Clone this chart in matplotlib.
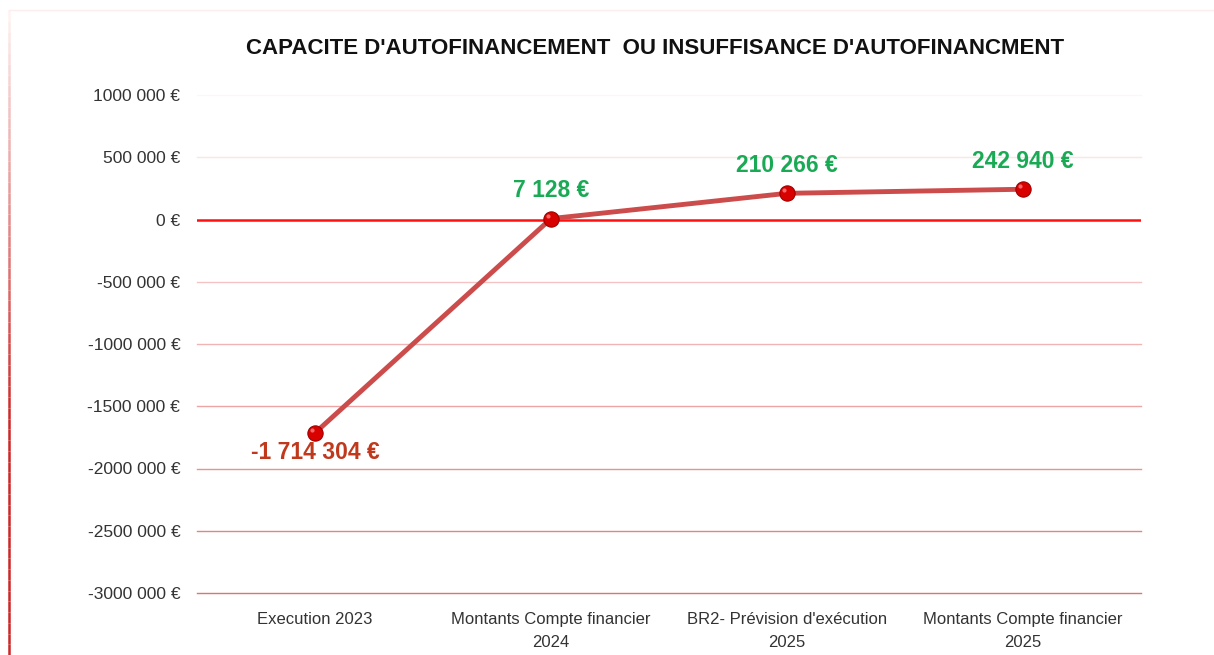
import numpy as np
import matplotlib.pyplot as plt
from matplotlib.collections import LineCollection
from matplotlib.ticker import FuncFormatter

# Data
categories = ["Execution 2023", "Montants Compte financier\n2024",
              "BR2- Prévision d'exécution\n2025", "Montants Compte financier\n2025"]
values = [-1714304, 7128, 210266, 242940]
value_labels = ["-1 714 304 €", "7 128 €", "210 266 €", "242 940 €"]
yticks = [1000000, 500000, 0, -500000, -1000000, -1500000, -2000000, -2500000, -3000000]

plt.rcParams['font.family'] = ['Liberation Sans', 'DejaVu Sans']


def fmt_tick(v, pos):
    v = int(round(v))
    if v == 0:
        return "0 €"
    sign = "-" if v < 0 else ""
    a = abs(v)
    return f"{sign}{a // 1000} {a % 1000:03d} €"


fig = plt.figure(figsize=(12.14, 6.55), dpi=100)
ax = fig.add_axes([197 / 1214, 1 - 593 / 655, 944 / 1214, 498 / 655])

x = np.arange(len(categories))
ax.set_xlim(-0.5, len(categories) - 0.5)
ax.set_ylim(-3000000, 1000000)

# gradient gridlines (faint at top, stronger at bottom)
top_c = np.array([1.0, 0.96, 0.96])
bot_c = np.array([0.88, 0.45, 0.45])
for t in yticks:
    if t == 0:
        continue
    f = (1000000 - t) / 4000000
    c = top_c * (1 - f) + bot_c * f
    ax.axhline(t, color=c, lw=1.0, zorder=1, clip_on=False)
ax.axhline(0, color="#ff1010", lw=1.8, zorder=2)

# series
ax.plot(x, values, color="#cc4b4b", lw=3.5, solid_capstyle="round", zorder=3)
ax.plot(x, values, "o", ms=11, color="#d90000", mec="#a00000", mew=0.8, zorder=4)
ax.plot(x - 0.012, np.array(values) + 25000, "o", ms=3, color="#ff8080", mew=0, alpha=0.8, zorder=5)

for xi, v, lab in zip(x, values, value_labels):
    if v < 0:
        ax.annotate(lab, (xi, v), xytext=(0, -14), textcoords="offset points",
                    ha="center", va="center", fontsize=16.5, fontweight="bold",
                    color="#c0391c", zorder=6)
    else:
        ax.annotate(lab, (xi, v), xytext=(0, 20), textcoords="offset points",
                    ha="center", va="center", fontsize=16.5, fontweight="bold",
                    color="#1aaa55", zorder=6)

ax.set_yticks(yticks)
ax.yaxis.set_major_formatter(FuncFormatter(fmt_tick))
ax.set_xticks(x)
ax.set_xticklabels(categories, linespacing=1.6)
ax.tick_params(axis="y", length=0, pad=12, labelsize=12.5, labelcolor="#333333")
ax.tick_params(axis="x", length=0, pad=14, labelsize=12, labelcolor="#333333")
for s in ax.spines.values():
    s.set_visible(False)

fig.text(655 / 1214, 1 - 48 / 655, "CAPACITE D'AUTOFINANCEMENT  OU INSUFFISANCE D'AUTOFINANCMENT",
         ha="center", va="center", fontsize=16, fontweight="bold", color="#111111")

# chart border: faint top, gradient red left edge
n = 60
ys = np.linspace(1 - 10 / 655, 0, n + 1)
segs = [[(9 / 1214, ys[i]), (9 / 1214, ys[i + 1])] for i in range(n)]
cols = []
for i in range(n):
    f = min(1.0, 1.6 * i / n)
    cols.append((1.0 - 0.2 * f, 0.95 - 0.8 * f, 0.95 - 0.8 * f))
fig.add_artist(LineCollection(segs, colors=cols, linewidths=1.8, transform=fig.transFigure))
fig.add_artist(plt.Line2D([9 / 1214, 1], [1 - 10 / 655, 1 - 10 / 655], color="#fdeeee",
                          lw=1, transform=fig.transFigure))

fig.savefig("out.png", dpi=100, facecolor="white")
